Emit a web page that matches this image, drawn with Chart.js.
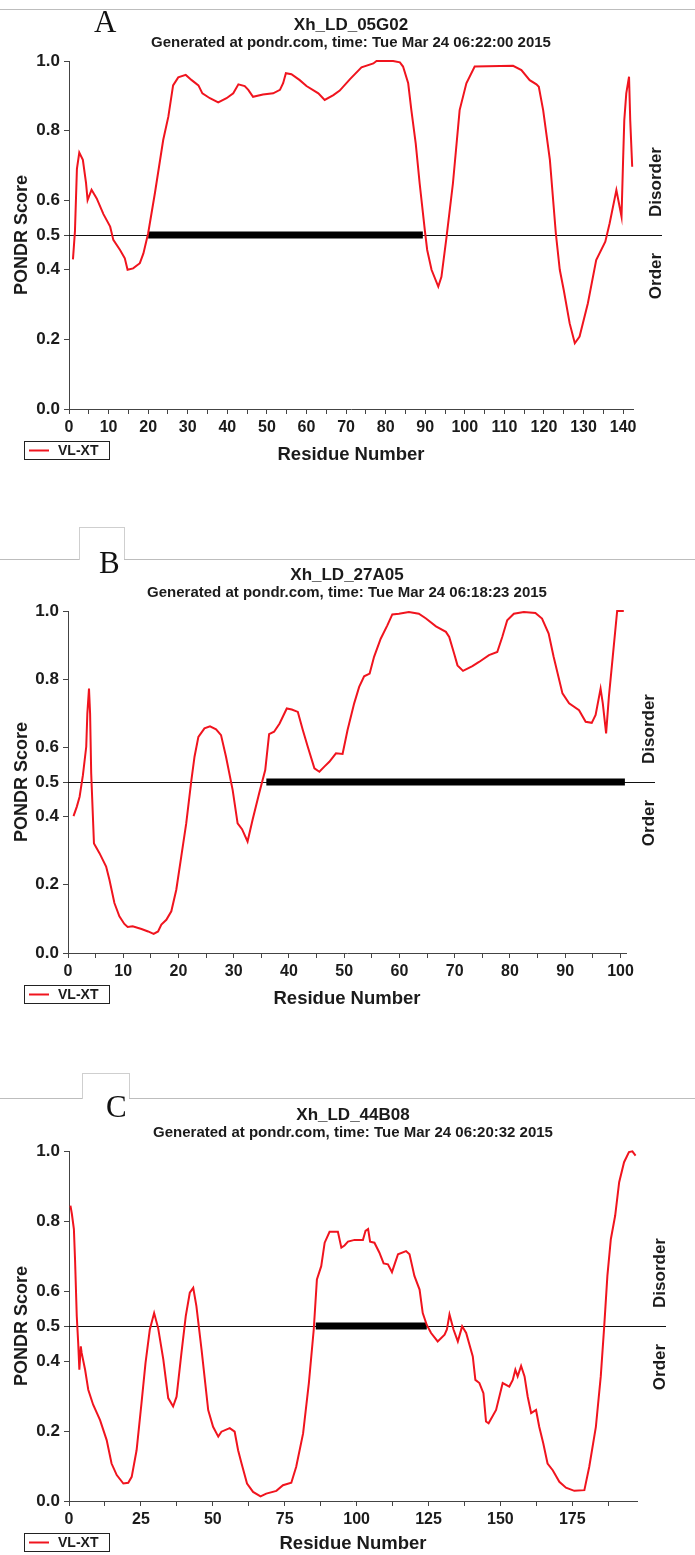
<!DOCTYPE html>
<html lang="en">
<head>
<meta charset="UTF-8">
<title>PONDR VL-XT plots</title>
<style>
  body { margin: 0; background: #fff; }
  #page { position: relative; width: 695px; height: 1555px; overflow: hidden; background: #fff; }
  #page canvas { position: absolute; left: 0; }
  .rule { position: absolute; height: 0; border-top: 1px solid #bdbdbd; }
  .tab { position: absolute; border: 1px solid #cfcfcf; border-bottom: none; }
  .letter { position: absolute; font-family: 'Liberation Serif', 'Times New Roman', serif; font-size: 31px; line-height: 1; color: #111; }
</style>
</head>
<body>
<div id="page">
  <canvas id="chartA" width="695" height="510" style="top:0px"></canvas>
  <canvas id="chartB" width="695" height="545" style="top:510px"></canvas>
  <canvas id="chartC" width="695" height="502" style="top:1053px"></canvas>

  <div class="rule" style="top:9px; left:0; width:695px;"></div>
  <div class="letter" style="left:94px; top:6px;">A</div>

  <div class="rule" style="top:559px; left:0; width:79px;"></div>
  <div class="tab" style="left:79px; top:527px; width:44px; height:32px;"></div>
  <div class="rule" style="top:559px; left:124px; width:571px;"></div>
  <div class="letter" style="left:99px; top:547px;">B</div>

  <div class="rule" style="top:1098px; left:0; width:82px;"></div>
  <div class="tab" style="left:82px; top:1073px; width:46px; height:25px;"></div>
  <div class="rule" style="top:1098px; left:129px; width:566px;"></div>
  <div class="letter" style="left:106px; top:1091px;">C</div>
</div>

<script src="https://cdn.jsdelivr.net/npm/chart.js"></script>
<script>
// shared
const yTicks = [0, 0.2, 0.4, 0.5, 0.6, 0.8, 1.0];
const threshold = 0.5;

// panel A
const aTitle = 'Xh_LD_05G02';
const aStamp = 'Generated at pondr.com, time: Tue Mar 24 06:22:00 2015';
const aTicks = [0, 10, 20, 30, 40, 50, 60, 70, 80, 90, 100, 110, 120, 130, 140];
const aMax = 142.5;
const aRes = [1, 1.5, 2, 2.6, 3.5, 4.3, 4.7, 5.7, 7, 8.7,
  10.4, 11.2, 12.9, 14.1, 14.8, 16.2, 17.9, 18.8, 20, 21.7,
  23.8, 25.1, 26.3, 27.6, 29.5, 31, 32.7, 33.7, 35.6, 37.7,
  39.8, 41.5, 42.8, 44.4, 45.3, 46.5, 49, 51.6, 53.3, 54.1,
  54.8, 56.2, 58.3, 60, 63, 64.6, 66.8, 68.4, 71, 73.9,
  76.9, 77.7, 81.9, 83.6, 84.4, 85.7, 86.5, 87.6, 88.6, 89.9,
  90.5, 91.6, 93.3, 94.1, 95.4, 97, 98.7, 100.4, 102.5, 112.2,
  114.3, 116.4, 118.1, 118.7, 119.8, 121.5, 123, 124, 125, 126.5,
  127.8, 129, 131.1, 133.2, 135.5, 136.6, 138.3, 139.6, 140, 140.3,
  140.8, 141.5, 141.8, 142.3];
const aScore = [0.43, 0.51, 0.69, 0.737, 0.716, 0.65, 0.60, 0.63, 0.605, 0.56,
  0.524, 0.486, 0.457, 0.433, 0.40, 0.404, 0.419, 0.447, 0.505, 0.62,
  0.773, 0.84, 0.93, 0.953, 0.96, 0.945, 0.93, 0.907, 0.893, 0.881,
  0.893, 0.907, 0.933, 0.928, 0.917, 0.897, 0.904, 0.907, 0.917, 0.936,
  0.965, 0.962, 0.945, 0.928, 0.907, 0.888, 0.902, 0.915, 0.948, 0.982,
  0.993, 1.0, 1.0, 0.996, 0.984, 0.936, 0.859, 0.763, 0.648, 0.514,
  0.457, 0.40, 0.352, 0.38, 0.495, 0.648, 0.859, 0.936, 0.984, 0.986,
  0.974, 0.945, 0.933, 0.926, 0.859, 0.716, 0.505, 0.40, 0.342, 0.246,
  0.189, 0.208, 0.304, 0.428, 0.481, 0.534, 0.629, 0.553, 0.716, 0.83,
  0.907, 0.955, 0.83, 0.696];
const aBar = [20, 89.4];

// panel B
const bTitle = 'Xh_LD_27A05';
const bStamp = 'Generated at pondr.com, time: Tue Mar 24 06:18:23 2015';
const bTicks = [0, 10, 20, 30, 40, 50, 60, 70, 80, 90, 100];
const bMax = 101;
const bRes = [1, 1.6, 2.1, 2.7, 3.3, 3.5, 3.8, 4.0, 4.2, 4.7,
  5.7, 6.9, 7.5, 8.4, 9.3, 10.2, 10.8, 11.7, 13.3, 14.5,
  15.5, 16.3, 16.9, 17.8, 18.7, 19.6, 20.5, 21.4, 22.3, 22.9,
  23.6, 24.7, 25.7, 26.8, 27.7, 28.6, 29.8, 30.7, 31.5, 32.5,
  33.4, 34.6, 35.7, 36.4, 37.3, 38.3, 39.6, 40.5, 41.6, 42.5,
  43.4, 44.6, 45.5, 46.4, 47.3, 48.5, 49.7, 50.6, 51.8, 52.7,
  53.6, 54.6, 55.4, 56.6, 57.8, 58.7, 59.9, 61.7, 63.5, 64.8,
  66.6, 68.4, 69, 69.9, 70.5, 71.5, 73.2, 74.4, 76.2, 77.7,
  78.6, 79.5, 80.7, 82.5, 84.6, 85.8, 87, 87.9, 89.5, 90.7,
  92.5, 93.7, 94.8, 95.5, 96.4, 96.8, 97.4, 97.9, 98.6, 99.4,
  100.6];
const bScore = [0.40, 0.428, 0.457, 0.52, 0.603, 0.70, 0.773, 0.70, 0.525, 0.32,
  0.292, 0.253, 0.214, 0.146, 0.107, 0.085, 0.076, 0.078, 0.07, 0.063,
  0.056, 0.063, 0.083, 0.097, 0.122, 0.185, 0.282, 0.379, 0.501, 0.574,
  0.632, 0.657, 0.663, 0.654, 0.637, 0.574, 0.477, 0.379, 0.362, 0.326,
  0.389, 0.467, 0.535, 0.640, 0.647, 0.671, 0.715, 0.712, 0.705, 0.652,
  0.603, 0.540, 0.530, 0.545, 0.559, 0.584, 0.582, 0.652, 0.730, 0.778,
  0.809, 0.817, 0.866, 0.919, 0.958, 0.99, 0.992, 0.997, 0.992, 0.978,
  0.955, 0.939, 0.924, 0.875, 0.841, 0.825, 0.839, 0.851, 0.871, 0.880,
  0.924, 0.973, 0.992, 0.997, 0.994, 0.978, 0.934, 0.866, 0.759, 0.730,
  0.710, 0.676, 0.673, 0.696, 0.773, 0.730, 0.642, 0.749, 0.866, 1.0,
  1.0];
const bBar = [35.9, 100.8];

// panel C
const cTitle = 'Xh_LD_44B08';
const cStamp = 'Generated at pondr.com, time: Tue Mar 24 06:20:32 2015';
const cTicks = [0, 25, 50, 75, 100, 125, 150, 175];
const cMax = 197.5;
const cRes = [0.5, 1, 1.7, 2.1, 2.7, 3.2, 3.6, 4.1, 4.4, 5.6,
  6.7, 8.4, 10.8, 13.1, 14.8, 16.6, 18.9, 20.6, 21.8, 23.5,
  25.2, 26.6, 28.1, 29.6, 31, 32.8, 34.5, 36.2, 37.4, 39.1,
  40.6, 42, 43.2, 44.3, 46.1, 48.4, 50.1, 51.9, 53, 55.9,
  57.6, 58.8, 60, 61.9, 64, 66.6, 68.6, 72.1, 74.4, 77.3,
  79, 81.4, 83.4, 85.1, 86.2, 87.7, 88.9, 90.6, 93.5, 94.7,
  95.8, 97, 99.3, 102.2, 103.1, 104, 104.7, 106.2, 107.9, 109.4,
  110.9, 112.3, 113.2, 114.4, 117.2, 118.4, 120.1, 121.9, 123, 124.4,
  125.9, 128.2, 130.6, 131.4, 132.3, 133.7, 135.2, 136.7, 138.1, 140.4,
  141.3, 142.7, 144.1, 145, 145.9, 148.5, 150.8, 153.1, 154.3, 155.2,
  156, 157.2, 158.4, 159.5, 160.7, 162.4, 163.5, 164.9, 166.4, 168.2,
  170.5, 172.8, 175.7, 179.2, 180.9, 183.2, 184.9, 186.1, 187.2, 188.4,
  189.9, 191.3, 193, 194.7, 195.9, 197];
const cScore = [0.844, 0.82, 0.777, 0.69, 0.528, 0.451, 0.375, 0.442, 0.423, 0.375,
  0.318, 0.275, 0.231, 0.174, 0.107, 0.074, 0.05, 0.052, 0.069, 0.145,
  0.279, 0.394, 0.49, 0.537, 0.494, 0.404, 0.294, 0.270, 0.298, 0.423,
  0.528, 0.595, 0.609, 0.557, 0.432, 0.260, 0.212, 0.184, 0.198, 0.208,
  0.198, 0.145, 0.107, 0.05, 0.026, 0.013, 0.021, 0.029, 0.045, 0.052,
  0.098, 0.193, 0.337, 0.49, 0.633, 0.671, 0.738, 0.769, 0.769, 0.724,
  0.730, 0.741, 0.746, 0.746, 0.772, 0.777, 0.741, 0.738, 0.710, 0.679,
  0.676, 0.654, 0.676, 0.705, 0.714, 0.705, 0.643, 0.604, 0.537, 0.503,
  0.480, 0.456, 0.475, 0.490, 0.533, 0.490, 0.456, 0.499, 0.480, 0.413,
  0.346, 0.337, 0.308, 0.227, 0.222, 0.260, 0.337, 0.327, 0.346, 0.375,
  0.356, 0.386, 0.356, 0.298, 0.251, 0.260, 0.212, 0.165, 0.107, 0.088,
  0.055, 0.038, 0.029, 0.031, 0.098, 0.212, 0.356, 0.499, 0.643, 0.748,
  0.815, 0.911, 0.968, 0.997, 0.999, 0.987];
const cBar = [85.8, 124.4];

const FONT = "'Liberation Sans', Arial, sans-serif";
const TEXT = '#1b1b1b';
const AXIS = '#444';
const RED = '#f0141e';

// threshold line, titles, Disorder/Order labels and the boxed legend
const pondrPlugin = {
  id: 'pondr',
  beforeDatasetsDraw(chart) {
    const { ctx, chartArea: a } = chart;
    const y = Math.round(chart.scales.y.getPixelForValue(threshold)) + 0.5;
    ctx.save();
    ctx.strokeStyle = '#111';
    ctx.lineWidth = 1;
    ctx.beginPath();
    ctx.moveTo(a.left, y);
    ctx.lineTo(a.right + 29, y);
    ctx.stroke();
    ctx.restore();
  },
  afterDraw(chart, args, opts) {
    const { ctx, chartArea: a } = chart;
    const y5 = chart.scales.y.getPixelForValue(threshold);
    const cx = (a.left + a.right) / 2;
    ctx.save();
    ctx.fillStyle = TEXT;
    ctx.textAlign = 'center';
    ctx.textBaseline = 'middle';
    ctx.font = 'bold 17px ' + FONT;
    ctx.fillText(opts.title, cx, a.top - 36);
    ctx.font = 'bold 15px ' + FONT;
    ctx.fillText(opts.stamp, cx, a.top - 18);

    ctx.font = 'bold 17px ' + FONT;
    [['Disorder', y5 - 53], ['Order', y5 + 41]].forEach(([txt, yc]) => {
      ctx.save();
      ctx.translate(a.right + 23, yc);
      ctx.rotate(-Math.PI / 2);
      ctx.fillText(txt, 0, 0);
      ctx.restore();
    });

    // legend box
    const ly = a.bottom + 32.5;
    ctx.strokeStyle = '#222';
    ctx.lineWidth = 1;
    ctx.strokeRect(24.5, ly, 85, 18);
    ctx.strokeStyle = RED;
    ctx.lineWidth = 2;
    ctx.beginPath();
    ctx.moveTo(29, ly + 9);
    ctx.lineTo(49, ly + 9);
    ctx.stroke();
    ctx.textAlign = 'left';
    ctx.font = 'bold 14px ' + FONT;
    ctx.fillText(chart.data.datasets[0].label, 58, ly + 9.5);
    ctx.restore();
  }
};

function makeChart(id, p) {
  const canvas = document.getElementById(id);
  const W = canvas.width, H = canvas.height;
  const step = p.ticks[1] - p.ticks[0];
  const xList = [];
  p.ticks.forEach(m => {
    xList.push(m);
    if (m + step / 2 <= p.max) xList.push(m + step / 2);
  });

  return new Chart(canvas, {
    type: 'line',
    data: {
      datasets: [{
        label: 'VL-XT',
        data: p.res.map((x, i) => ({ x: x, y: p.score[i] })),
        borderColor: RED,
        borderWidth: 2,
        pointRadius: 0,
        tension: 0,
        clip: 6
      }, {
        label: 'disordered segment',
        data: [{ x: p.bar[0], y: threshold }, { x: p.bar[1], y: threshold }],
        borderColor: '#000',
        borderWidth: 7,
        borderCapStyle: 'butt',
        pointRadius: 0
      }]
    },
    options: {
      responsive: false,
      animation: false,
      events: [],
      layout: {
        padding: { left: 0, top: p.area.top, right: W - p.area.right, bottom: H - p.area.bottom - p.axisH }
      },
      plugins: {
        legend: { display: false },
        tooltip: { enabled: false },
        pondr: { title: p.title, stamp: p.stamp }
      },
      scales: {
        x: {
          type: 'linear',
          min: 0,
          max: p.max,
          afterBuildTicks: s => { s.ticks = xList.map(v => ({ value: v })); },
          afterFit: s => { s.height = p.axisH; },
          ticks: {
            autoSkip: false,
            maxRotation: 0,
            padding: 4,
            color: TEXT,
            font: { family: FONT, size: 16, weight: 'bold' },
            callback: v => p.ticks.includes(v) ? String(v) : ''
          },
          grid: { drawOnChartArea: false, tickLength: 5, color: AXIS },
          border: { color: AXIS },
          title: {
            display: true,
            text: 'Residue Number',
            color: TEXT,
            font: { family: FONT, size: 18.5, weight: 'bold' },
            padding: { top: 0, bottom: 0 }
          }
        },
        y: {
          min: 0,
          max: 1,
          afterBuildTicks: s => { s.ticks = yTicks.map(v => ({ value: v })); },
          afterFit: s => { s.width = p.area.left; },
          ticks: {
            padding: 4,
            color: TEXT,
            font: { family: FONT, size: 17, weight: 'bold' },
            callback: v => v.toFixed(1)
          },
          grid: { drawOnChartArea: false, tickLength: 5, color: AXIS },
          border: { color: AXIS },
          title: {
            display: true,
            text: 'PONDR Score',
            color: TEXT,
            font: { family: FONT, size: 18, weight: 'bold' },
            padding: { top: 11, bottom: 0 }
          }
        }
      }
    },
    plugins: [pondrPlugin]
  });
}

makeChart('chartA', {
  title: aTitle, stamp: aStamp, ticks: aTicks, max: aMax,
  res: aRes, score: aScore, bar: aBar,
  area: { left: 69, right: 633, top: 61, bottom: 409 }, axisH: 57
});
makeChart('chartB', {
  title: bTitle, stamp: bStamp, ticks: bTicks, max: bMax,
  res: bRes, score: bScore, bar: bBar,
  area: { left: 68, right: 626, top: 101, bottom: 443 }, axisH: 57
});
makeChart('chartC', {
  title: cTitle, stamp: cStamp, ticks: cTicks, max: cMax,
  res: cRes, score: cScore, bar: cBar,
  area: { left: 69, right: 637, top: 98, bottom: 448 }, axisH: 54
});
</script>
</body>
</html>
